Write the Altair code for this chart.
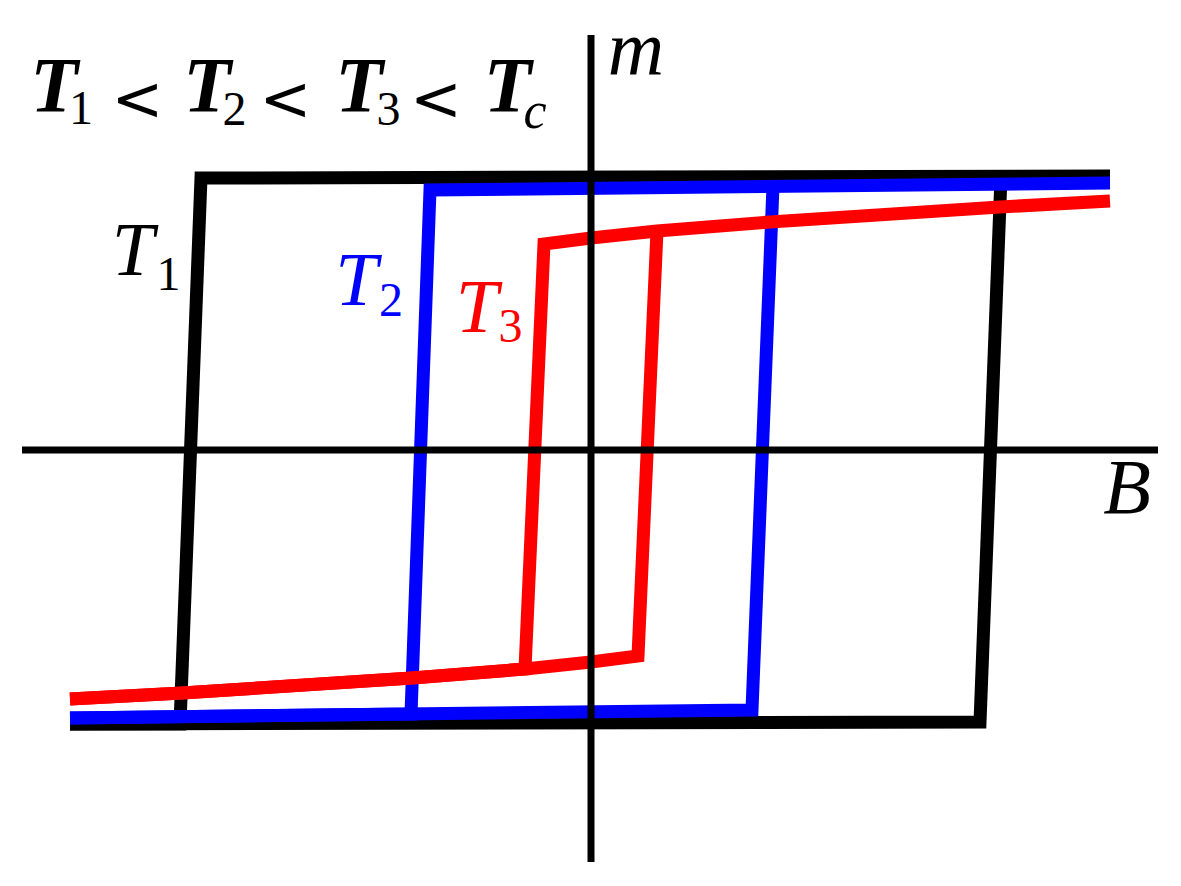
import altair as alt
import pandas as pd

# ---- hysteresis loops (B, m) ----
# T1 (black): descending branch and ascending branch
T1_down_B = [5.19, -3.90, -4.11, -5.21]
T1_down_m = [2.74, 2.72, -2.74, -2.74]
T1_up_B = [-5.21, 3.89, 4.10]
T1_up_m = [-2.74, -2.72, 2.73]

# T2 (blue)
T2_down_B = [5.19, -1.61, -1.80, -5.21]
T2_down_m = [2.67, 2.60, -2.64, -2.68]
T2_up_B = [-5.21, 1.61, 1.82]
T2_up_m = [-2.68, -2.60, 2.64]

# T3 (red)
T3_down_B = [5.19, 4.09, 1.79, 0.66, 0.00, -0.47, -0.66, -1.79, -4.09, -5.21]
T3_down_m = [2.49, 2.43, 2.28, 2.19, 2.12, 2.06, -2.19, -2.28, -2.43, -2.49]
T3_up_B = [-5.21, -4.09, -1.79, -0.66, 0.00, 0.47, 0.66]
T3_up_m = [-2.49, -2.43, -2.28, -2.19, -2.12, -2.06, 2.19]

loop_names = ["T1", "T2", "T3"]
loop_colors = ["#000000", "#0000ff", "#ff0000"]

# coordinate axes
axis_h_B = [-5.69, 5.67]
axis_v_m = [-4.12, 4.15]

# title pieces
title_T_B = [-5.37, -3.84, -2.32, -0.835]
title_T_m = [3.39, 3.39, 3.39, 3.39]
title_sub_text = ["1", "2", "3"]
title_sub_B = [-5.10, -3.565, -2.025]
title_sub_m = [3.26, 3.25, 3.25]
title_lt_B = [-4.535, -3.055, -1.55]
title_lt_m = [3.30, 3.30, 3.30]
title_c_B = [-0.56]
title_c_m = [3.22]

# curve labels
label_T_B = [-4.58, -2.345, -1.14]
label_T_m = [1.75, 1.45, 1.18]
label_sub_text = ["1", "2", "3"]
label_sub_B = [-4.225, -2.00, -0.805]
label_sub_m = [1.60, 1.34, 1.08]

# axis names
axis_names = ["m", "B"]
axis_names_B = [0.45, 5.36]
axis_names_m = [3.75, -0.63]

# ---- build tables ----
rows = []
branches = [
    ("T1", "down", T1_down_B, T1_down_m), ("T1", "up", T1_up_B, T1_up_m),
    ("T2", "down", T2_down_B, T2_down_m), ("T2", "up", T2_up_B, T2_up_m),
    ("T3", "down", T3_down_B, T3_down_m), ("T3", "up", T3_up_B, T3_up_m),
]
for loop, br, bs, ms in branches:
    for i, (b, m) in enumerate(zip(bs, ms)):
        rows.append({"loop": loop, "branch": loop + br, "i": i, "B": b, "m": m})
curves = pd.DataFrame(rows)

color_of = dict(zip(loop_names, loop_colors))

axes_df = pd.DataFrame([
    {"B": axis_h_B[0], "B2": axis_h_B[1], "m": 0.0, "m2": 0.0},
    {"B": 0.0, "B2": 0.0, "m": axis_v_m[0], "m2": axis_v_m[1]},
])

SERIF = "Liberation Serif"

W, H = 1160, 865
xs = alt.Scale(domain=[-5.83, 5.77], nice=False, zero=False)
ys = alt.Scale(domain=[-4.23, 4.42], nice=False, zero=False)


def line_layer(loop):
    return alt.Chart(curves[curves["loop"] == loop]).mark_line(
        strokeWidth=13, strokeCap="butt", strokeJoin="miter", color=color_of[loop]
    ).encode(
        x=alt.X("B:Q", scale=xs, axis=None),
        y=alt.Y("m:Q", scale=ys, axis=None),
        detail="branch:N",
        order="i:Q",
    )


def text_layer(txt, bs, ms, size, italic, color="#000000", font=SERIF, bold=False):
    df = pd.DataFrame({"t": txt, "B": bs, "m": ms})
    kw = dict(font=font, fontSize=size, align="center", baseline="alphabetic", color=color)
    if italic:
        kw["fontStyle"] = "italic"
    if bold:
        kw["fontWeight"] = "bold"
    return alt.Chart(df).mark_text(**kw).encode(
        x=alt.X("B:Q", scale=xs, axis=None),
        y=alt.Y("m:Q", scale=ys, axis=None),
        text="t:N",
    )


axes_layer = alt.Chart(axes_df).mark_rule(strokeWidth=7, color="black", strokeCap="butt").encode(
    x=alt.X("B:Q", scale=xs, axis=None), x2="B2:Q",
    y=alt.Y("m:Q", scale=ys, axis=None), y2="m2:Q",
)

texts = [
    text_layer(["T"] * 4, title_T_B, title_T_m, 78, True, bold=True),
    text_layer(title_sub_text, title_sub_B, title_sub_m, 48, False),
    text_layer(["<"] * 3, title_lt_B, title_lt_m, 62, False, font="DejaVu Sans"),
    text_layer(["c"], title_c_B, title_c_m, 52, True),
    text_layer(axis_names, axis_names_B, axis_names_m, 78, True),
]
for k, loop in enumerate(loop_names):
    texts.append(text_layer(["T"], [label_T_B[k]], [label_T_m[k]], 76, True, color_of[loop]))
    texts.append(text_layer([label_sub_text[k]], [label_sub_B[k]], [label_sub_m[k]], 48, False, color_of[loop]))

chart = alt.layer(
    line_layer("T1"), line_layer("T2"), line_layer("T3"), axes_layer, *texts
).properties(
    width=W, height=H, padding=0, background="white",
    autosize=alt.AutoSizeParams(type="none")
).configure_view(stroke=None, strokeWidth=0)

chart.save("out.html", embed_options={"renderer": "svg", "actions": False})
